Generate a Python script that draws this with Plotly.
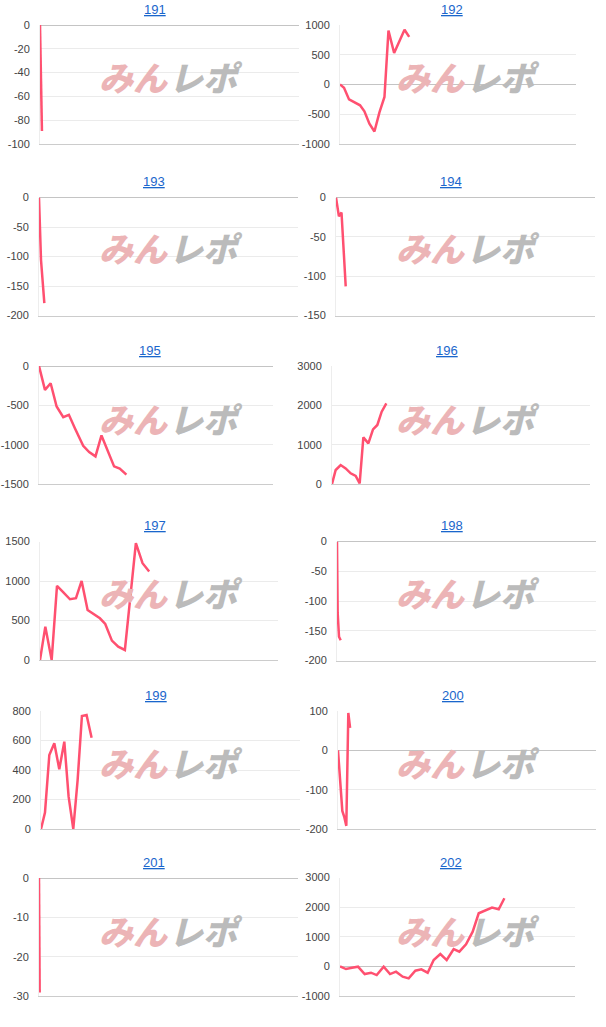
import plotly.graph_objects as go

W, H = 606, 1027

# ---- data (x = games played, y = medal difference) ----
machines = ["191", "192", "193", "194", "195", "196", "197", "198", "199", "200", "201", "202"]

games_191 = [0, 60]
diff_191 = [0, -89]

games_192 = [0, 136, 306, 510, 680, 827, 997, 1167, 1337, 1507, 1643, 1835, 2017, 2187, 2345]
diff_192 = [0, -55, -250, -310, -350, -450, -660, -790, -470, -210, 905, 530, 720, 920, 800]

games_193 = [0, 62, 165]
diff_193 = [0, -106, -179]

games_194 = [0, 90, 170, 300]
diff_194 = [0, -24, -19, -113]

games_195 = [0, 204, 398, 602, 829, 1022, 1227, 1511, 1715, 1931, 2136, 2340, 2567, 2760, 2988]
diff_195 = [0, -304, -220, -515, -650, -620, -790, -1014, -1094, -1149, -883, -1065, -1276, -1305, -1381]

games_196 = [0, 114, 269, 424, 579, 734, 858, 972, 1127, 1272, 1406, 1541, 1685]
diff_196 = [0, 356, 483, 398, 271, 203, 17, 1186, 1034, 1390, 1500, 1839, 2050]

games_197 = [0, 179, 392, 571, 794, 1007, 1209, 1399, 1600, 1802, 2014, 2193, 2417, 2630, 2853, 3223, 3447, 3670]
diff_197 = [0, 422, 0, 938, 853, 769, 782, 1001, 634, 583, 528, 456, 245, 169, 127, 1479, 1225, 1120]

games_198 = [0, 21, 62, 114]
diff_198 = [0, -120, -160, -166]

games_199 = [0, 123, 257, 411, 565, 720, 853, 997, 1131, 1264, 1408, 1563]
diff_199 = [0, 111, 502, 581, 405, 592, 219, 0, 332, 766, 773, 619]

games_200 = [0, 134, 196, 258, 320, 375]
diff_200 = [0, -154, -170, -192, 95, 57]

games_201 = [0, 21]
diff_201 = [0, -29.1]

games_202 = [0, 204, 409, 613, 840, 1056, 1249, 1487, 1703, 1907, 2134, 2338, 2565, 2769, 2985,
             3189, 3416, 3632, 3870, 4063, 4290, 4517, 4722, 4949, 5176, 5403, 5596]
diff_202 = [0, -90, -45, -11, -259, -214, -293, -11, -259, -180, -349, -406, -146, -101, -214,
            214, 417, 214, 586, 496, 744, 1172, 1792, 1882, 1983, 1927, 2299]

series = {
    "191": (games_191, diff_191), "192": (games_192, diff_192),
    "193": (games_193, diff_193), "194": (games_194, diff_194),
    "195": (games_195, diff_195), "196": (games_196, diff_196),
    "197": (games_197, diff_197), "198": (games_198, diff_198),
    "199": (games_199, diff_199), "200": (games_200, diff_200),
    "201": (games_201, diff_201), "202": (games_202, diff_202),
}

# y tick labels per chart
ticks_191 = [-100, -80, -60, -40, -20, 0]
ticks_192 = [-1000, -500, 0, 500, 1000]
ticks_193 = [-200, -150, -100, -50, 0]
ticks_194 = [-150, -100, -50, 0]
ticks_195 = [-1500, -1000, -500, 0]
ticks_196 = [0, 1000, 2000, 3000]
ticks_197 = [0, 500, 1000, 1500]
ticks_198 = [-200, -150, -100, -50, 0]
ticks_199 = [0, 200, 400, 600, 800]
ticks_200 = [-200, -100, 0, 100]
ticks_201 = [-30, -20, -10, 0]
ticks_202 = [-1000, 0, 1000, 2000, 3000]
yticks = {
    "191": ticks_191, "192": ticks_192, "193": ticks_193, "194": ticks_194,
    "195": ticks_195, "196": ticks_196, "197": ticks_197, "198": ticks_198,
    "199": ticks_199, "200": ticks_200, "201": ticks_201, "202": ticks_202,
}
GAME_MAX = 8000

# ---- layout geometry (pixels) ----
plot_px = {  # left, right, top, bottom
    "191": (40, 299, 25, 144), "192": (340, 576, 25, 144),
    "193": (39, 298, 197.5, 315.5), "194": (336, 595, 197.5, 315.5),
    "195": (39, 273, 366, 484), "196": (332, 590, 366, 484),
    "197": (40, 278, 541.5, 660), "198": (337, 596, 541.5, 660.5),
    "199": (41, 300, 711, 829), "200": (338, 596, 711, 829),
    "201": (39, 298, 878, 996), "202": (340, 575, 877.5, 996),
}
title_px = {
    "191": (155, 10), "192": (452, 10), "193": (154, 181), "194": (451, 181),
    "195": (150, 350), "196": (447, 350), "197": (155, 525), "198": (452, 525),
    "199": (156, 695), "200": (453, 695), "201": (154, 862), "202": (451, 862),
}
logo_y = [77, 248, 418, 592, 762, 930]
logo_x = {0: 169, 1: 466}

LINE = "#ff5070"
fig = go.Figure()
annotations = []

def px_x(p):
    return p / W

def px_y(p):
    return 1 - p / H

for i, m in enumerate(machines):
    n = "" if i == 0 else str(i + 1)
    xs, ys = series[m]
    fig.add_trace(go.Scatter(x=xs, y=ys, mode="lines", xaxis="x" + n, yaxis="y" + n,
                             line=dict(color=LINE, width=2.5), showlegend=False,
                             hoverinfo="skip"))
    l, r, t, b = plot_px[m]
    tv = yticks[m]
    fig.layout["xaxis" + n] = dict(
        domain=[px_x(l), px_x(r)], range=[0, GAME_MAX], anchor="y" + n,
        showticklabels=False, showgrid=False, zeroline=False, automargin=False,
        showline=True, linecolor="#cccccc", linewidth=1, ticks="", fixedrange=True)
    fig.layout["yaxis" + n] = dict(
        domain=[px_y(b), px_y(t)], range=[min(tv), max(tv)], anchor="x" + n,
        tickmode="array", tickvals=tv, ticktext=[str(v) for v in tv],
        showgrid=True, gridcolor="#ebebeb", gridwidth=1, automargin=False,
        zeroline=True, zerolinecolor="#c4c4c4", zerolinewidth=1,
        showline=True, linecolor="#ededed", linewidth=1,
        ticks="", ticklabelstandoff=7,
        tickfont=dict(family="Liberation Sans, Arial", size=11, color="#444444"),
        fixedrange=True)
    tx, ty = title_px[m]
    annotations.append(dict(
        x=px_x(tx), y=px_y(ty), xref="paper", yref="paper", text=m, showarrow=False,
        xanchor="center", yanchor="middle",
        font=dict(family="Liberation Sans, Arial", size=13, color="#1a66cc", lineposition="under")))
    # watermark
    cx = logo_x[i % 2]
    cy = logo_y[i // 2]
    annotations.append(dict(
        x=px_x(cx - 36), y=px_y(cy), xref="paper", yref="paper", text="<i>みん</i>",
        showarrow=False, xanchor="center", yanchor="middle",
        font=dict(family="Noto Sans CJK JP", size=34, weight=900, color="#ecb4b6")))
    annotations.append(dict(
        x=px_x(cx + 37), y=px_y(cy), xref="paper", yref="paper", text="<i>レポ</i>",
        showarrow=False, xanchor="center", yanchor="middle",
        font=dict(family="Noto Sans CJK JP", size=34, weight=900, color="#bbbbbb")))

fig.update_layout(width=W, height=H, margin=dict(l=0, r=0, t=0, b=0, pad=0, autoexpand=False),
                  paper_bgcolor="white", plot_bgcolor="white",
                  annotations=annotations)

fig.write_html("out.html", config={"displayModeBar": False},
               post_script="document.body.style.margin='0';document.body.style.padding='0';")
